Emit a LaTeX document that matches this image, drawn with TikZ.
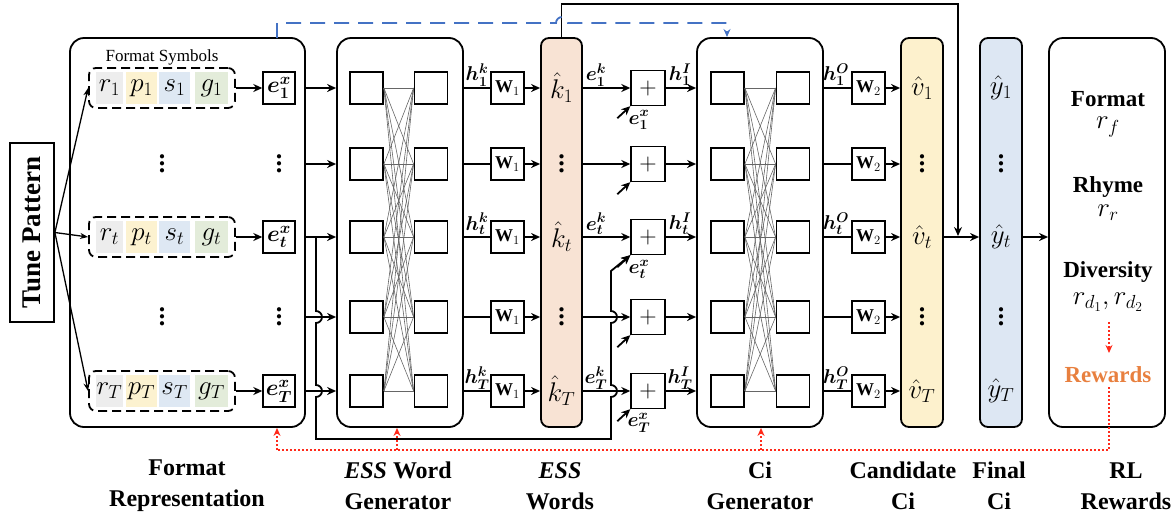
\RequirePackage{fix-cm}
\documentclass[tikz,border=0pt]{standalone}
\usepackage{amsmath,bm}
\usepackage{fontspec}
\IfFontExistsTF{LiberationSerif-Regular.ttf}{%
  \setmainfont{LiberationSerif}[Extension=.ttf, UprightFont=*-Regular,
    BoldFont=*-Bold, ItalicFont=*-Italic, BoldItalicFont=*-BoldItalic]}{%
  \setmainfont{Liberation Serif}}
\usetikzlibrary{arrows.meta, positioning, backgrounds}

\definecolor{esspeach}{HTML}{F8E3D4}
\definecolor{candyellow}{HTML}{FDF1CD}
\definecolor{finalblue}{HTML}{DDE7F3}
\definecolor{cellgray}{HTML}{EDEDED}
\definecolor{cellyellow}{HTML}{FCF2D0}
\definecolor{cellblue}{HTML}{DEE8F3}
\definecolor{cellgreen}{HTML}{E3ECDA}
\definecolor{dashblue}{HTML}{4472C4}
\definecolor{rewardred}{HTML}{FF2A1A}
\definecolor{rewardorange}{HTML}{E8803F}

\newcommand{\setfs}[1]{\fontsize{#1}{#1}\selectfont}
\newcommand{\tallvdots}{\vbox{\baselineskip=7pt\lineskiplimit=-20pt
  \hbox{.}\hbox{.}\hbox{.}}}

\begin{document}
\begin{tikzpicture}[
    x=1pt, y=-1pt,
    line width=1.8pt,
    >={Stealth[length=9pt,width=8pt]},
    % Node styles
    tunebox/.style={
        rectangle, draw, inner sep=0pt,
        minimum width=179, minimum height=44,
        font=\bfseries\setfs{27}
    },
    bigbox/.style={
        rectangle, rounded corners=14pt, draw,
        minimum width=#1, minimum height=389
    },
    colbox/.style={
        rectangle, rounded corners=8pt, draw,
        minimum width=42, minimum height=389
    },
    symbox/.style={
        rectangle, rounded corners=7pt, draw,
        dash pattern=on 9pt off 5pt,
        minimum width=146, minimum height=40
    },
    cell/.style={
        rectangle, inner sep=0pt,
        minimum height=32, font=\setfs{27}
    },
    ebox/.style={
        rectangle, draw, line width=1.4pt, inner sep=0pt,
        minimum width=32, minimum height=32, font=\setfs{23}
    },
    sqbox/.style={
        rectangle, draw, minimum width=33, minimum height=32
    },
    wbox/.style={
        rectangle, draw, line width=1.4pt, inner sep=0pt,
        minimum width=33, minimum height=32, font=\setfs{18}
    },
    plusbox/.style={
        rectangle, draw, line width=1.4pt, inner sep=0pt,
        minimum width=34, minimum height=35, font=\setfs{24}
    },
    dotstxt/.style={inner sep=0pt, font=\bfseries\setfs{26}},
    mesh/.style={draw=black!60, line width=0.6pt},
    coltxt/.style={font=\setfs{27}},
    hlbl/.style={font=\setfs{20}},
    rltxt/.style={font=\bfseries\setfs{23}},
    caption/.style={font=\bfseries\fontsize{24}{31}\selectfont, align=center},
    bluedash/.style={draw=dashblue, dash pattern=on 15pt off 9pt},
    reddot/.style={draw=rewardred, dash pattern=on 2pt off 2pt,
        >={Stealth[length=8pt,width=7pt]}},
]
\useasboundingbox (0,0) rectangle (1173,520);

%% ---- Tune pattern ----
\node[tunebox, rotate=90] (tune) at (32,232.5) {Tune Pattern};

%% ---- Format representation ----
\node[bigbox=235] (fmt) at (187.5,232.5) {};
\node[font=\setfs{17}] (fsym) at (162,57) {Format Symbols};

\foreach \i/\yy/\s in {1/88/1, 3/237/t, 5/391/T} {
  \node[cell, fill=cellgray,   minimum width=27] (r\i) at (109.5,\yy) {$r_{\s}$};
  \node[cell, fill=cellyellow, minimum width=31] (p\i) at (141.5,\yy) {$p_{\s}$};
  \node[cell, fill=cellblue,   minimum width=31] (s\i) at (174.5,\yy) {$s_{\s}$};
  \node[cell, fill=cellgreen,  minimum width=33] (g\i) at (211.5,\yy) {$g_{\s}$};
  \node[symbox] (sym\i) at (162,\yy) {};
  \node[ebox] (ex\i) at (279,\yy) {$\bm{e}^{\bm{x}}_{\bm{\s}}$};
  \draw[->] (sym\i.east) -- (ex\i.west);
  \draw[->, line width=1.3pt, >={Stealth[length=8pt,width=6pt]}] (tune.south) -- (sym\i.west);
}
\foreach \i/\yy in {2/164, 4/317} {
  \node[dotstxt] (sd\i) at (162,\yy) {\tallvdots};
  \node[dotstxt] (ed\i) at (279,\yy) {\tallvdots};
}

%% ---- ESS word generator / Ci generator ----
\node[bigbox=126] (essgen) at (400,232.5) {};
\node[bigbox=126] (cigen) at (760,232.5) {};

\foreach \i/\yy in {1/88, 2/164, 3/237, 4/317, 5/391} {
  \node[sqbox] (gl\i) at (366.5,\yy) {};
  \node[sqbox] (gr\i) at (431,\yy) {};
  \node[sqbox] (cl\i) at (727.5,\yy) {};
  \node[sqbox] (cr\i) at (793,\yy) {};
}
\foreach \i in {1,...,5} {
  \foreach \j in {1,...,5} {
    \draw[mesh] (gl\i.east) -- (gr\j.west);
    \draw[mesh] (cl\i.east) -- (cr\j.west);
  }
}

%% ---- columns ----
\node[colbox, fill=esspeach, minimum width=41] (khat) at (561.5,232.5) {};
\node[colbox, fill=candyellow] (vhat) at (922,232.5) {};
\node[colbox, fill=finalblue] (yhat) at (1001,232.5) {};
\node[bigbox=116] (rl) at (1107,232.5) {};

\foreach \i/\yy/\s in {1/88/1, 3/237/t, 5/391/T} {
  \node[coltxt] (kt\i) at (561.5,\yy) {$\hat{k}_{\s}$};
  \node[coltxt] (vt\i) at (922,\yy) {$\hat{v}_{\s}$};
  \node[coltxt] (yt\i) at (1001,\yy) {$\hat{y}_{\s}$};
}
\foreach \i/\yy in {2/164, 4/317} {
  \node[dotstxt] (kt\i) at (561.5,\yy) {\tallvdots};
  \node[dotstxt] (vt\i) at (922,\yy) {\tallvdots};
  \node[dotstxt] (yt\i) at (1001,\yy) {\tallvdots};
}

%% ---- row connectors ----
\foreach \i/\yy in {1/88, 2/164, 3/237, 4/317, 5/391} {
  \node[wbox] (wa\i) at (507.5,\yy) {$\mathbf{W}_1$};
  \node[plusbox] (pl\i) at (648,\yy) {$+$};
  \node[wbox] (wb\i) at (868.5,\yy) {$\mathbf{W}_2$};
  \draw[->] (fmt.east |- gl\i) -- (essgen.west |- gl\i);
  \draw (essgen.east |- wa\i) -- (wa\i.west);
  \draw[->] (wa\i.east) -- (wa\i.east -| khat.west);
  \draw[->] (khat.east |- pl\i) -- (pl\i.west);
  \draw[->] (pl\i.east) -- (pl\i.east -| cigen.west);
  \draw (cigen.east |- wb\i) -- (wb\i.west);
  \draw[->] (wb\i.east) -- (wb\i.east -| vhat.west);
  \draw[<-] (pl\i.south west) -- ++(-13,12);
}

%% ---- row labels ----
\foreach \i/\yy/\s in {1/88/1, 3/237/t, 5/391/T} {
  \node[hlbl] (hk\i) at (477,\yy-13) {$\bm{h}^{\bm{k}}_{\bm{\s}}$};
  \node[hlbl] (ek\i) at (596,\yy-13) {$\bm{e}^{\bm{k}}_{\bm{\s}}$};
  \node[hlbl] (hi\i) at (680,\yy-13) {$\bm{h}^{\bm{I}}_{\bm{\s}}$};
  \node[hlbl] (ho\i) at (836,\yy-13) {$\bm{h}^{\bm{O}}_{\bm{\s}}$};
  \node[hlbl] (ep\i) at (639,\yy+32) {$\bm{e}^{\bm{x}}_{\bm{\s}}$};
}

%% ---- e_t^x route with line jumps ----
\coordinate (split) at (316,237);
\draw[->] (split) -- (316,311)
    arc[start angle=-90, end angle=90, radius=6] -- (316,385)
    arc[start angle=-90, end angle=90, radius=6] -- (316,439)
    -- (611,439) -- (611,397)
    arc[start angle=90, end angle=-90, radius=6] -- (611,323)
    arc[start angle=90, end angle=-90, radius=6] -- (611,271)
    -- (pl3.south west);

%% ---- final selection ----
\draw[->] (vhat.east |- yt3) -- (yhat.west |- yt3);
\draw[->] (yhat.east |- yt3) -- (rl.west |- yt3);
\coordinate (vyjoin) at (958,236);
\draw[->] (khat.north) -- (561.5,4) -- (958,4) -- (vyjoin);

% word feedback (dashed)
\coordinate (blueout) at (277,38);
\coordinate (bluein) at (727,37);
\draw[bluedash, ->, >={Stealth[length=8pt,width=7pt]}] (blueout) -- (277,23) -- (556,23)
    arc[start angle=180, end angle=360, radius=6] -- (727,23) -- (bluein);

%% ---- RL rewards ----
\node[rltxt] (rfmt) at (1108,99) {Format};
\node[coltxt] (rf) at (1108,127) {$r_f$};
\node[rltxt] (rrhy) at (1108,187) {Rhyme};
\node[coltxt] (rr) at (1108,213) {$r_r$};
\node[rltxt] (rdiv) at (1108,272) {Diversity};
\node[coltxt] (rd) at (1108,302) {$r_{d_1},r_{d_2}$};
\node[rltxt, text=rewardorange] (rew) at (1108,375) {Rewards};
\draw[reddot, ->] (1109,322) -- (1109,353);

\coordinate (rb1) at (277,450);
\coordinate (rb2) at (397,450);
\coordinate (rb3) at (761,450);
\draw[reddot] (rew.south -| 1109,0) |- (rb1);
\draw[reddot, ->] (rb1) -- (rb1 |- fmt.south);
\draw[reddot, ->] (rb2) -- (rb2 |- essgen.south);
\draw[reddot, ->] (rb3) -- (rb3 |- cigen.south);

%% ---- captions ----
\node[caption] (capf) at (187,486) {Format\\Representation};
\node[caption] (cape) at (398,486) {\textit{ESS} Word\\Generator};
\node[caption] (capw) at (560,486) {\textit{ESS}\\Words};
\node[caption] (capc) at (760,486) {Ci\\Generator};
\node[caption] (capd) at (903,486) {Candidate\\Ci};
\node[caption] (capy) at (999,486) {Final\\Ci};
\node[caption] (capr) at (1126,486) {RL\\Rewards};

\end{tikzpicture}
\end{document}
